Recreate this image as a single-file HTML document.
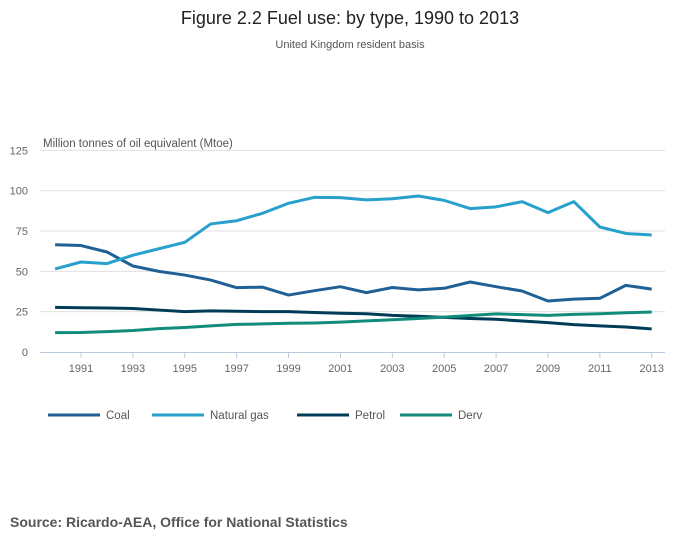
<!DOCTYPE html>
<html><head><meta charset="utf-8"><style>
body{margin:0;background:#fff;font-family:"Liberation Sans",sans-serif;}
svg text{font-family:"Liberation Sans",sans-serif;}
</style></head><body>
<svg id="c" width="700" height="549" xmlns="http://www.w3.org/2000/svg">
<text x="350" y="24" text-anchor="middle" font-size="18" fill="#222">Figure 2.2 Fuel use: by type, 1990 to 2013</text>
<text x="350" y="48" text-anchor="middle" font-size="11" fill="#555">United Kingdom resident basis</text>
<text x="43" y="147" font-size="11.5" fill="#555">Million tonnes of oil equivalent (Mtoe)</text>
<g id="grid"></g><g id="series"></g><g id="legend"></g>
<text x="10" y="527" font-size="14" font-weight="bold" fill="#555">Source: Ricardo-AEA, Office for National Statistics</text>
</svg>
<script>
const years=[1990,1991,1992,1993,1994,1995,1996,1997,1998,1999,2000,2001,2002,2003,2004,2005,2006,2007,2008,2009,2010,2011,2012,2013];
const coal=[66.5,66,62,53.3,50,47.7,44.6,39.9,40.2,35.3,38,40.5,36.8,40,38.5,39.5,43.4,40.5,37.8,31.6,32.8,33.3,41.3,39];
const gas=[51.5,55.8,54.8,60,64,68,79.4,81.4,86,92.2,95.9,95.7,94.3,95,96.7,94,88.9,90,93.2,86.4,93.2,77.5,73.5,72.5];
const petrol=[27.7,27.4,27.3,27,26,25,25.5,25.3,25,25,24.5,24,23.7,22.7,22.2,21.5,20.8,20.3,19.2,18.2,17,16.2,15.5,14.3];
const derv=[12,12.1,12.6,13.3,14.5,15.2,16.2,17.1,17.4,17.8,18,18.5,19.3,20,20.8,21.6,22.6,23.6,23.2,22.7,23.3,23.7,24.3,24.8];
const yTicks=[0,25,50,75,100,125];
const seriesNames=["Coal","Natural gas","Petrol","Derv"];
const seriesData=[coal,gas,petrol,derv];
const colors=["#206095","#27a0cc","#003c57","#118c7b"];
const NS="http://www.w3.org/2000/svg";
const xS=y=>55.1+(y-1990)*25.94;
const yS=v=>352-v*1.613;
function mk(t,a,p){const e=document.createElementNS(NS,t);for(const k in a)e.setAttribute(k,a[k]);p.appendChild(e);return e;}
const grid=document.getElementById('grid');
yTicks.forEach(v=>{
 if(v>0){const l=mk('line',{x1:40,x2:665,y1:yS(v),y2:yS(v),stroke:'#e0e0e0','stroke-width':1},grid);
 
 }
 const t=mk('text',{x:28,y:yS(v)+4,'text-anchor':'end','font-size':11,fill:'#666'},grid);t.textContent=v;
 
 
});
const ax=mk('line',{x1:40,x2:665,y1:352.5,y2:352.5,stroke:'#b8c8e0','stroke-width':1},grid);


years.forEach(y=>{
 const tk=mk('line',{x1:xS(y),x2:xS(y),y1:352,y2:(y%2?358:352),stroke:'#b8c8e0'},grid);
 if(y%2){const t=mk('text',{x:xS(y),y:372,'text-anchor':'middle','font-size':11,fill:'#666'},grid);t.textContent=y;
 
 }
});
const sg=document.getElementById('series');
seriesData.forEach((d,i)=>{
 const p=mk('polyline',{points:d.map((v,j)=>xS(years[j])+','+yS(v)).join(' '),fill:'none',stroke:colors[i],'stroke-width':3,'stroke-linejoin':'round'},sg);
 
 
});
const lg=document.getElementById('legend');
const lx=[48,152,297,400];
seriesNames.forEach((n,i)=>{
 const g=mk('g',{},lg);
 
 
 mk('line',{x1:lx[i],x2:lx[i]+52,y1:415,y2:415,stroke:colors[i],'stroke-width':3},g);
 const t=mk('text',{x:lx[i]+58,y:419,'font-size':11.5,fill:'#555'},g);t.textContent=n;
});
</script>
</body></html>
